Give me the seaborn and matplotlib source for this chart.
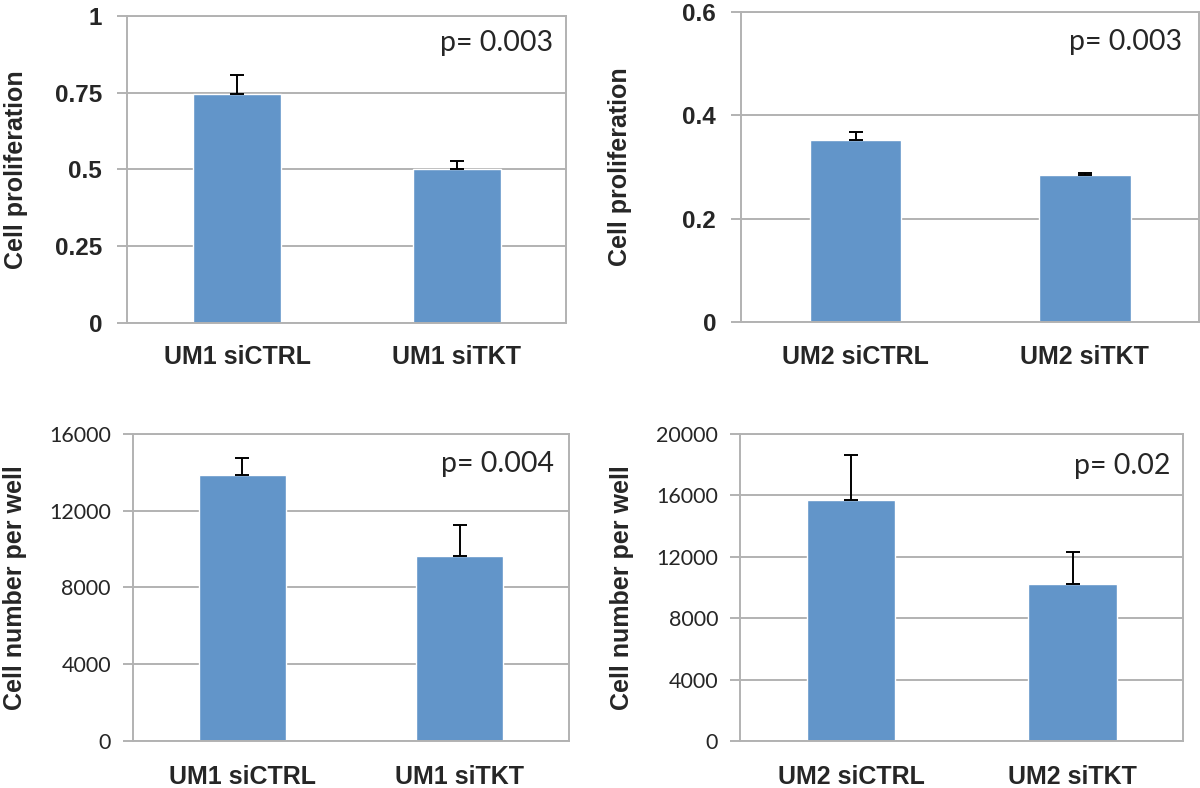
import numpy as np
import pandas as pd
import matplotlib
matplotlib.use("Agg")
import matplotlib.pyplot as plt
import seaborn as sns

# data
um1_labels = ["UM1 siCTRL", "UM1 siTKT"]
um2_labels = ["UM2 siCTRL", "UM2 siTKT"]

prolif_um1 = [0.745, 0.500]
prolif_um1_err = [0.062, 0.029]
prolif_um2 = [0.352, 0.284]
prolif_um2_err = [0.016, 0.005]

count_um1 = [13870, 9620]
count_um1_err = [870, 1640]
count_um2 = [15670, 10220]
count_um2_err = [2950, 2060]

p_values = ["p= 0.003", "p= 0.003", "p= 0.004", "p= 0.02"]

BAR = "#6295c9"
GRID = "#b2b2b2"

sns.set_style("white")
plt.rcParams["font.family"] = ["Liberation Sans", "DejaVu Sans"]

fig = plt.figure(figsize=(12, 7.88), dpi=100)

panels = [
    # rect, labels, values, errors, ylim, ticks, ylabel, bold ticks, label x, p pos
    ([0.106, 0.590, 0.366, 0.390], um1_labels, prolif_um1, prolif_um1_err,
     1.0, [0, 0.25, 0.5, 0.75, 1], ["0", "0.25", "0.5", "0.75", "1"],
     "Cell proliferation", True, -0.226, (0.970, 0.912)),
    ([0.6175, 0.591, 0.382, 0.394], um2_labels, prolif_um2, prolif_um2_err,
     0.6, [0, 0.2, 0.4, 0.6], ["0", "0.2", "0.4", "0.6"],
     "Cell proliferation", True, -0.237, (0.963, 0.903)),
    ([0.111, 0.0596, 0.363, 0.390], um1_labels, count_um1, count_um1_err,
     16000, [0, 4000, 8000, 12000, 16000], ["0", "4000", "8000", "12000", "16000"],
     "Cell number per well", False, -0.243, (0.966, 0.902)),
    ([0.617, 0.0596, 0.369, 0.390], um2_labels, count_um2, count_um2_err,
     20000, [0, 4000, 8000, 12000, 16000, 20000],
     ["0", "4000", "8000", "12000", "16000", "20000"],
     "Cell number per well", False, -0.241, (0.971, 0.896)),
]

for i, (rect, labels, vals, errs, ymax, ticks, ticklabels, ylabel, bold, lx, ppos) in enumerate(panels):
    ax = fig.add_axes(rect)
    df = pd.DataFrame({"group": labels, "value": vals})
    sns.barplot(data=df, x="group", y="value", color=BAR, saturation=1,
                width=0.4, ax=ax, zorder=2)
    ax.errorbar(np.arange(len(vals)), vals, yerr=[np.zeros(len(errs)), errs],
                fmt="none", ecolor="black", elinewidth=1.4, capsize=5,
                capthick=1.4, zorder=3)
    ax.set_xlim(-0.5, 1.5)
    ax.set_ylim(0, ymax)
    ax.set_yticks(ticks)
    ax.yaxis.grid(True, color=GRID, lw=1.4, zorder=0)
    ax.set_axisbelow(True)
    for s in ax.spines.values():
        s.set_color(GRID)
        s.set_linewidth(1.4)
    ax.tick_params(axis="y", length=7, width=1.4, color=GRID,
                   pad=11 if bold else 9, left=True)
    ax.tick_params(axis="x", length=0, pad=16 if bold else 17)
    ax.set_xticks([0, 1])
    ax.set_xticklabels(labels, fontsize=18, fontweight="bold")
    if bold:
        ax.set_yticklabels(ticklabels, fontsize=17.5, fontweight="bold")
    else:
        ax.set_yticklabels(ticklabels, fontsize=15.5, family=["Lato", "DejaVu Sans"])
    ax.set_xlabel("")
    ax.set_ylabel(ylabel, fontsize=18, fontweight="bold")
    ax.yaxis.set_label_coords(lx, 0.5)
    ax.text(ppos[0], ppos[1], p_values[i], transform=ax.transAxes,
            ha="right", va="center", fontsize=20.5, family=["Lato", "DejaVu Sans"])

fig.savefig("out.png", dpi=100)
